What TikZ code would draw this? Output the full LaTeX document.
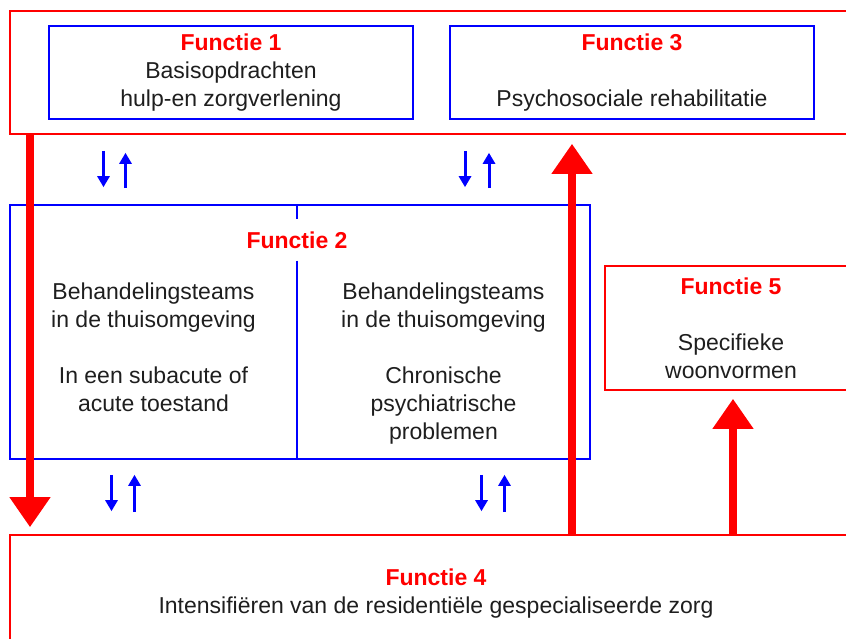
\documentclass[tikz,border=0pt]{standalone}
\usepackage{fontspec}
\setmainfont{Liberation Sans}
\usetikzlibrary{arrows.meta}
\definecolor{funcred}{RGB}{255, 0, 0}
\definecolor{linkblue}{RGB}{0, 0, 255}
\definecolor{textgray}{RGB}{30, 30, 30}
\newcommand{\functitle}[1]{\textcolor{funcred}{\textbf{Functie #1}}}

\begin{document}
\begin{tikzpicture}[x=1pt, y=-1pt,
  redbox/.style={draw=funcred, line width=1.6pt, inner sep=0pt, align=center, text=textgray, font=\fontsize{23}{28}\selectfont},
  bluebox/.style={draw=linkblue, line width=1.6pt, inner sep=0pt, align=center, text=textgray, font=\fontsize{23}{28}\selectfont},
  bodytext/.style={align=center, text=textgray, inner sep=0pt, font=\fontsize{23}{28}\selectfont},
  bigarrow/.style={line width=8pt, funcred, -{Triangle[width=39pt, length=30pt]}},
  smallarrow/.style={line width=3pt, linkblue, -{Triangle[width=12pt, length=11pt]}}]
  \useasboundingbox (0,0) rectangle (846,639);
  \clip (0,0) rectangle (846,639);

  % Top band with functions 1 and 3
  \node[redbox, minimum width=850pt, minimum height=123pt] (top) at (435, 72.5) {};
  \node[bluebox, minimum width=364pt, minimum height=93pt] (f1) at (231, 72.5) {\functitle{1}\\Basisopdrachten\\hulp-en zorgverlening};
  \node[bluebox, minimum width=364pt, minimum height=93pt] (f3) at (632, 72.5) {\functitle{3}\\[28pt]Psychosociale rehabilitatie};

  % Function 2, two columns
  \node[bluebox, minimum width=580pt, minimum height=254pt] (f2) at (300, 332) {};
  \node[bodytext, inner ysep=12pt] (f2title) at (297, 240) {\functitle{2}};
  \draw[linkblue, line width=1.6pt] (f2.north -| f2title) -- (f2title.north);
  \draw[linkblue, line width=1.6pt] (f2title.south) -- (f2.south -| f2title);
  \node[bodytext, anchor=north] (f2left) at (153.5, 283) {Behandelingsteams\\in de thuisomgeving\\[28pt]In een subacute of\\acute toestand};
  \node[bodytext, anchor=north] (f2right) at (443.5, 283) {Behandelingsteams\\in de thuisomgeving\\[28pt]Chronische\\psychiatrische\\problemen};

  % Function 5 and 4
  \node[redbox, minimum width=252pt, minimum height=124pt] (f5) at (731, 328) {\functitle{5}\\[28pt]Specifieke\\woonvormen};
  \node[redbox, minimum width=852pt, minimum height=118pt] (f4) at (436, 594) {\functitle{4}\\Intensifiëren van de residentiële gespecialiseerde zorg};

  % x positions of the arrows
  \coordinate (lftx) at (30, 0);
  \coordinate (midx) at (572, 0);
  \coordinate (rgtx) at (733, 0);
  \coordinate (dnA) at (103.5, 0);
  \coordinate (upA) at (125.5, 0);
  \coordinate (dnB) at (465, 0);
  \coordinate (upB) at (489, 0);
  \coordinate (dnC) at (111.5, 0);
  \coordinate (upC) at (134.5, 0);
  \coordinate (dnD) at (481.5, 0);
  \coordinate (upD) at (504.5, 0);

  % Red flows
  \draw[bigarrow, shorten >=7pt] (top.south -| lftx) -- (f4.north -| lftx);
  \draw[bigarrow, shorten >=9pt] (f4.north -| midx) -- (top.south -| midx);
  \draw[bigarrow, shorten >=8pt] (f4.north -| rgtx) -- (f5.south -| rgtx);

  % Blue exchanges
  \draw[smallarrow, shorten <=16pt, shorten >=17pt] (top.south -| dnA) -- (f2.north -| dnA);
  \draw[smallarrow, shorten <=16pt, shorten >=18pt] (f2.north -| upA) -- (top.south -| upA);
  \draw[smallarrow, shorten <=16pt, shorten >=17pt] (top.south -| dnB) -- (f2.north -| dnB);
  \draw[smallarrow, shorten <=16pt, shorten >=18pt] (f2.north -| upB) -- (top.south -| upB);
  \draw[smallarrow, shorten <=15pt, shorten >=23pt] (f2.south -| dnC) -- (f4.north -| dnC);
  \draw[smallarrow, shorten <=22pt, shorten >=15pt] (f4.north -| upC) -- (f2.south -| upC);
  \draw[smallarrow, shorten <=15pt, shorten >=23pt] (f2.south -| dnD) -- (f4.north -| dnD);
  \draw[smallarrow, shorten <=22pt, shorten >=15pt] (f4.north -| upD) -- (f2.south -| upD);
\end{tikzpicture}
\end{document}
